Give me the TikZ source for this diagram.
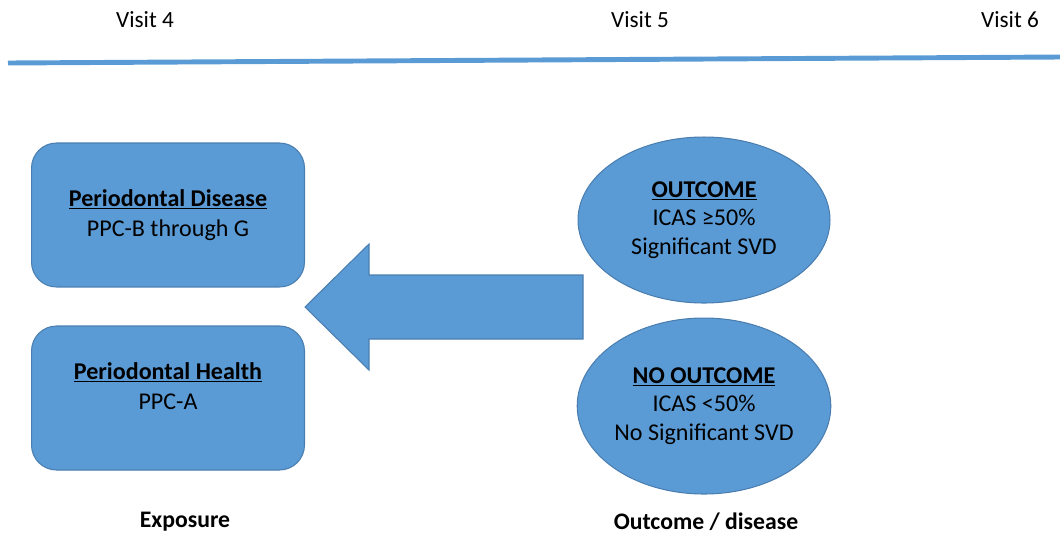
\documentclass[tikz,border=0pt]{standalone}
\usepackage{fontspec}
\setmainfont{Carlito}
\usetikzlibrary{shapes.geometric}
\definecolor{officeblue}{HTML}{5B9BD5}
\definecolor{officeedge}{HTML}{4A7EB0}

\begin{document}
\begin{tikzpicture}[x=0.02cm, y=-0.02cm,
  box/.style={draw=officeedge, fill=officeblue, line width=0.6pt, rounded corners=0.5cm,
    minimum width=5.46cm, minimum height=2.88cm, align=center,
    font=\fontsize{13.7}{17.5}\selectfont},
  oval/.style={ellipse, draw=officeedge, fill=officeblue, line width=0.6pt,
    minimum width=5.04cm, inner sep=0pt, align=center,
    font=\fontsize{13.7}{16.4}\selectfont},
  visit/.style={font=\fontsize{13.2}{15}\selectfont},
  phase/.style={font=\bfseries\fontsize{13.5}{15}\selectfont}]
  \useasboundingbox (0,0) rectangle (1060,535);
  \coordinate (T1) at (8,63);
  \coordinate (T2) at (1060,57);
  \draw[officeblue, line width=2.8pt] (T1) -- (T2);
  \node[visit] (V4) at (145,20) {Visit 4};
  \node[visit] (V5) at (640,20) {Visit 5};
  \node[visit] (V6) at (1010,20) {Visit 6};
  % exposure side
  \node[box] (PD) at (168,215) {\underline{\textbf{Periodontal Disease}}\\PPC-B through G};
  \node[box] (PH) at (168,398) {\underline{\textbf{Periodontal Health}}\\PPC-A\\[-9pt]\strut};
  % outcome side
  \node[oval, minimum height=3.32cm] (OC) at (704,220)
    {\underline{\textbf{OUTCOME}}\\ICAS ≥50\%\\Significant SVD};
  \node[oval, minimum height=3.52cm] (NO) at (704,406)
    {\underline{\textbf{NO OUTCOME}}\\ICAS <50\%\\No Significant SVD};
  % block arrow
  \draw[draw=officeedge, fill=officeblue, line width=0.6pt]
    (305,307) -- (369,244) -- (369,275) -- (583,275) -- (583,339)
    -- (369,339) -- (369,370) -- cycle;
  \node[phase] (EX) at (185,522) {Exposure};
  \node[phase] (OD) at (706,522) {Outcome / disease};
\end{tikzpicture}
\end{document}
